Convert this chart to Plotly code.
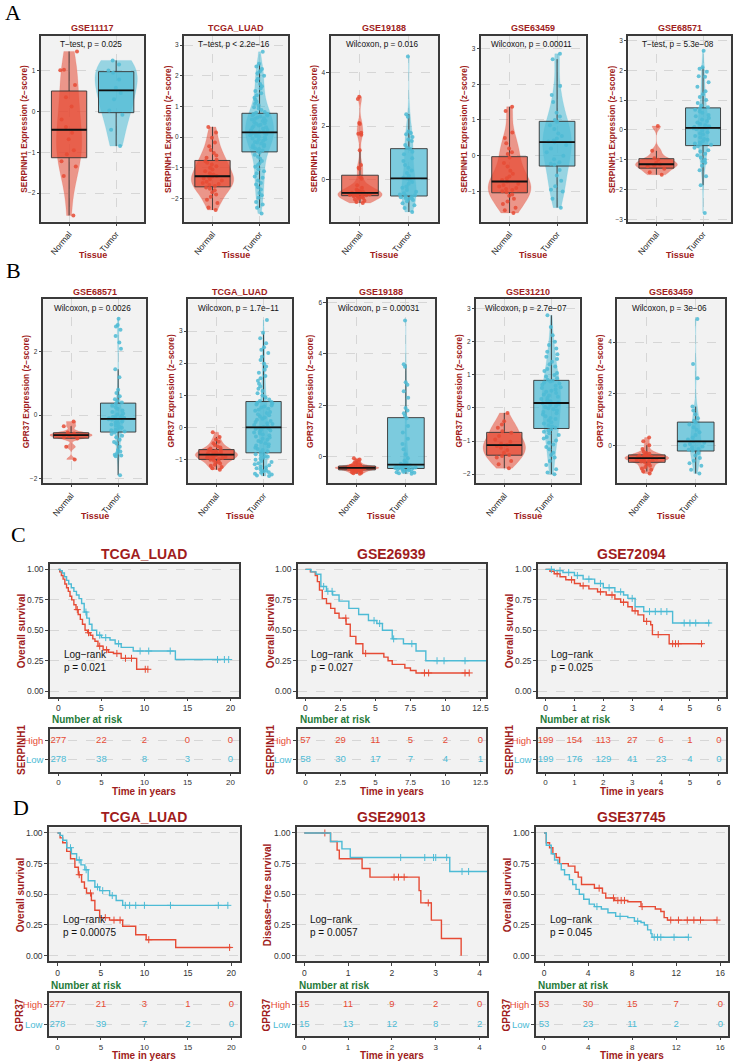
import numpy as np
import plotly.graph_objects as go

# ======================= DATA =======================
# ---- Panel A: SERPINH1 expression (z-score) ----
A_titles = ["GSE11117", "TCGA_LUAD", "GSE19188", "GSE63459", "GSE68571"]
A_tests = ["T\u2212test, p = 0.025", "T\u2212test, p < 2.2e\u221216", "Wilcoxon, p = 0.016",
           "Wilcoxon, p = 0.00011", "T\u2212test, p = 5.3e\u221208"]
A_gene = "SERPINH1"

A1_normal = [1.47, 1.02, 1.01, 0.65, 0.35, 0.12, -0.2, -0.38, -0.52, -0.68, -0.95, -1.05, -1.22, -1.35, -1.58, -2.55]
A1_tumor = [1.25, 1.15, 1.0, 0.95, 0.78, 0.58, 0.45, 0.3, 0.02, -0.08, -0.45, -0.85]

A2_normal = [0.33, 0.15, -0.02, -0.18, -0.3, -0.42, -0.52, -0.6, -0.68, -0.74,
             -0.79, -0.84, -0.9, -0.95, -1.0, -1.06, -1.12, -1.18, -1.22, -1.27,
             -1.29, -1.32, -1.35, -1.38, -1.42, -1.46, -1.5, -1.53, -1.57, -1.6,
             -1.65, -1.69, -1.74, -1.8, -1.88, -1.95, -2.05, -2.15, -2.3, -2.38]
A2_tumor = [-2.5, -2.31, -2.2, -2.12, -1.98, -1.9, -1.83, -1.71, -1.64, -1.55, -1.5, -1.42, -1.33,
            -1.29, -1.18, -1.12, -1.05, -0.97, -0.91, -0.86, -0.78, -0.71, -0.64, -0.58, -0.51,
            -0.46, -0.44, -0.39, -0.37, -0.33, -0.3, -0.27, -0.25, -0.21, -0.18, -0.16, -0.12,
            -0.09, -0.07, -0.05, -0.01, 0.02, 0.03, 0.06, 0.08, 0.1, 0.11, 0.12, 0.13, 0.14,
            0.16, 0.18, 0.22, 0.23, 0.27, 0.3, 0.32, 0.35, 0.38, 0.4, 0.43, 0.45, 0.48, 0.52,
            0.53, 0.57, 0.6, 0.61, 0.64, 0.67, 0.7, 0.71, 0.73, 0.75, 0.76,
            0.79, 0.82, 0.88, 0.93, 0.97, 1.04, 1.09, 1.15, 1.22, 1.28, 1.36, 1.43, 1.5,
            1.58, 1.66, 1.73, 1.84, 1.9, 2.0, 2.08, 2.15, 2.22, 2.3, 2.39, 2.78]

A3_normal = [3.1, 3.02, 2.12, 2.08, 1.76, 1.72, 1.68, 1.1, 0.55, 0.45, 0.41, 0.09, 0.04, -0.2, -0.3,
             -0.36, -0.4, -0.42, -0.44, -0.45, -0.46, -0.48, -0.49, -0.5, -0.51, -0.52, -0.52,
             -0.53, -0.54, -0.55, -0.56, -0.57, -0.58, -0.59, -0.6, -0.61, -0.62, -0.64, -0.66,
             -0.68, -0.71, -0.74, -0.78, -0.83, -0.87]
A3_tumor = [4.6, 2.45, 2.35, 1.8, 1.75, 1.7, 1.6, 1.5, 1.45, 1.3, 1.2, 1.15, 1.05, 0.95, 0.8, 0.7,
            0.55, 0.45, 0.35, 0.25, 0.15, 0.08, 0.05, 0.0, -0.08, -0.15, -0.25, -0.3, -0.38, -0.45,
            -0.5, -0.55, -0.58, -0.6, -0.62, -0.65, -0.68, -0.7, -0.72, -0.75, -0.8, -0.88, -0.95,
            -1.05, -1.2]

A4_normal = [1.37, 1.25, 0.65, 0.5, 0.35, 0.2, 0.1, 0.05, -0.05, -0.2, -0.3, -0.42, -0.5, -0.58,
             -0.63, -0.68, -0.72, -0.78, -0.82, -0.86, -0.9, -0.93, -0.96, -0.99, -1.02, -1.08,
             -1.12, -1.2, -1.28, -1.35, -1.45, -1.52, -1.6]
A4_tumor = [2.85, 2.7, 1.95, 1.7, 1.5, 1.2, 1.1, 1.0, 0.95, 0.85, 0.75, 0.62, 0.55, 0.48, 0.43,
            0.4, 0.38, 0.3, 0.2, 0.1, 0.0, -0.1, -0.18, -0.22, -0.25, -0.4, -0.55, -0.7, -0.85,
            -0.95, -1.0, -1.2, -1.45]

A5_normal = [0.13, -0.7, -0.95, -1.0, -1.1, -1.15, -1.18, -1.22, -1.3, -1.42, -1.5]
A5_tumor = [2.65, 2.1, 2.05, 1.95, 1.8, 1.78, 1.6, 1.45, 1.3, 1.2, 1.1, 1.0, 0.9, 0.82, 0.76,
            0.72, 0.68, 0.62, 0.58, 0.5, 0.46, 0.4, 0.35, 0.3, 0.25, 0.2, 0.16, 0.12, 0.1, 0.08,
            0.06, 0.02, -0.02, -0.08, -0.12, -0.15, -0.2, -0.25, -0.3, -0.33, -0.38, -0.42, -0.45,
            -0.48, -0.5, -0.55, -0.6, -0.68, -0.72, -0.8, -0.85, -0.92, -1.0, -1.05, -1.1, -1.2,
            -1.35, -1.55, -1.85, -2.78]

# ---- Panel B: GPR37 expression (z-score) ----
B_titles = ["GSE68571", "TCGA_LUAD", "GSE19188", "GSE31210", "GSE63459"]
B_tests = ["Wilcoxon, p = 0.0026", "Wilcoxon, p = 1.7e\u221211", "Wilcoxon, p = 0.00031",
           "Wilcoxon, p = 2.7e\u221207", "Wilcoxon, p = 3e\u221206"]
B_gene = "GPR37"

B1_normal = [-0.2, -0.35, -0.55, -0.58, -0.62, -0.63, -0.66, -0.7, -0.74, -1.0, -1.4]
B1_tumor = [3.05, 2.85, 2.8, 2.7, 2.5, 2.3, 2.1, 1.45, 1.2, 0.8, 0.7, 0.6, 0.5, 0.45, 0.4,
            0.36, 0.3, 0.25, 0.2, 0.15, 0.1, 0.05, 0.02, -0.02, -0.05, -0.07, -0.08, -0.09, -0.1,
            -0.11, -0.13, -0.15, -0.18, -0.2, -0.23, -0.26, -0.3, -0.33, -0.36, -0.4, -0.43,
            -0.46, -0.48, -0.5, -0.52, -0.55, -0.6, -0.65, -0.7, -0.78, -0.85, -0.9, -1.0, -1.1,
            -1.2, -1.3, -1.28, -1.25, -1.15, -1.9]

B2_normal = [-0.15, -0.3, -0.38, -0.45, -0.5, -0.55, -0.6, -0.63, -0.66, -0.69,
             -0.7, -0.72, -0.74, -0.76, -0.78, -0.79, -0.81, -0.82, -0.83, -0.84,
             -0.86, -0.87, -0.89, -0.9, -0.92, -0.93, -0.95, -0.96, -0.98, -0.99,
             -1.01, -1.04, -1.07, -1.1, -1.13, -1.17, -1.2, -1.24, -1.28, -1.32]
B2_tumor = [-1.52, -1.5, -1.47, -1.45, -1.42, -1.4, -1.37, -1.35, -1.31, -1.28, -1.25, -1.22,
            -1.18, -1.15, -1.12, -1.08, -1.05, -1.01, -0.98, -0.95, -0.92, -0.9, -0.87, -0.84,
            -0.81, -0.78, -0.75, -0.71, -0.68, -0.64, -0.6, -0.57, -0.53, -0.5, -0.46, -0.43,
            -0.39, -0.36, -0.32, -0.29, -0.25, -0.22, -0.19, -0.16, -0.13, -0.1, -0.08, -0.05,
            -0.03, -0.01, 0.01, 0.04, 0.07, 0.1, 0.13, 0.17, 0.2, 0.24, 0.27, 0.31, 0.34, 0.38,
            0.41, 0.45, 0.48, 0.52, 0.55, 0.58, 0.62, 0.65, 0.68, 0.71, 0.74, 0.77, 0.79,
            0.82, 0.87, 0.93, 0.99, 1.06, 1.13, 1.2, 1.28, 1.36, 1.45, 1.53, 1.6, 1.7, 1.8,
            1.9, 1.98, 2.1, 2.2, 2.32, 2.42, 2.5, 2.62, 2.78, 2.95, 3.35]

B3_normal = [-0.05, -0.1, -0.15, -0.2, -0.24, -0.27, -0.3, -0.32, -0.34, -0.35, -0.36, -0.37,
             -0.38, -0.39, -0.4, -0.4, -0.41, -0.41, -0.42, -0.42, -0.43, -0.43, -0.44, -0.45,
             -0.45, -0.46, -0.47, -0.48, -0.49, -0.5, -0.51, -0.52, -0.53, -0.55, -0.56, -0.58,
             -0.6, -0.62, -0.64, -0.66]
B3_tumor = [5.3, 3.6, 3.5, 2.9, 2.8, 2.55, 2.3, 1.9, 1.8, 1.7, 1.6, 1.5, 1.2, 0.95, 0.7, 0.5,
            0.3, 0.1, -0.05, -0.15, -0.22, -0.27, -0.3, -0.31, -0.33, -0.35, -0.37, -0.38, -0.4,
            -0.41, -0.42, -0.43, -0.44, -0.45, -0.46, -0.48, -0.5, -0.52, -0.54, -0.56, -0.58,
            -0.6, -0.62, -0.64, -0.66]

B4_normal = [-0.15, -0.4, -0.5, -0.6, -0.7, -0.75, -0.85, -0.95, -1.02, -1.08, -1.12, -1.15,
             -1.2, -1.27, -1.35, -1.42, -1.45, -1.5, -1.6, -1.7, -1.82]
B4_tumor = [-2.0, -1.95, -1.85, -1.72, -1.6, -1.5, -1.42, -1.35, -1.25, -1.18, -1.1, -1.05,
            -0.98, -0.92, -0.88, -0.82, -0.76, -0.72, -0.68, -0.64, -0.6, -0.56, -0.52, -0.47,
            -0.43, -0.38, -0.33, -0.3, -0.25, -0.2, -0.16, -0.12, -0.08, -0.04, -0.01, 0.03,
            0.06, 0.09, 0.12, 0.14, 0.16, 0.2, 0.23, 0.27, 0.3, 0.34, 0.38, 0.41, 0.45, 0.49,
            0.52, 0.56, 0.6, 0.63, 0.67, 0.7, 0.74, 0.77, 0.8, 0.82, 0.85, 0.9, 0.95, 1.0, 1.06,
            1.12, 1.18, 1.25, 1.32, 1.4, 1.48, 1.55, 1.62, 1.7, 1.8, 1.9, 2.0, 2.2, 2.45, 2.8]

B5_normal = [0.3, 0.15, 0.0, -0.15, -0.25, -0.3, -0.33, -0.36, -0.38, -0.4, -0.42, -0.44, -0.46,
             -0.47, -0.48, -0.49, -0.5, -0.52, -0.54, -0.55, -0.57, -0.59, -0.61, -0.63, -0.65,
             -0.7, -0.75, -0.8, -0.85, -0.9, -0.95, -1.02, -1.1]
B5_tumor = [4.9, 3.15, 2.6, 1.5, 1.35, 1.2, 1.05, 0.95, 0.88, 0.8, 0.7, 0.6, 0.5, 0.4, 0.3, 0.22,
            0.15, 0.1, 0.05, 0.0, -0.05, -0.1, -0.15, -0.18, -0.2, -0.3, -0.4, -0.5, -0.6, -0.7,
            -0.8, -0.95, -1.1]

# ---- Panels C/D: Kaplan-Meier curves (step breakpoints) ----
C_titles = ["TCGA_LUAD", "GSE26939", "GSE72094"]
C_pvals = ["0.021", "0.027", "0.025"]
C_ylabels = ["Overall survival", "Overall survival", "Overall survival"]
C_gene = "SERPINH1"

C1_high_t = [0, 0.15, 0.35, 0.55, 0.75, 0.95, 1.15, 1.35, 1.55, 1.8, 2.05, 2.3, 2.55, 2.8, 3.1, 3.4, 3.7, 4.0, 4.25, 4.6, 5.2, 5.8, 6.4, 7.3, 9.1]
C1_high_s = [1.0, 0.98, 0.95, 0.92, 0.88, 0.85, 0.82, 0.78, 0.75, 0.71, 0.67, 0.63, 0.59, 0.55, 0.5, 0.48, 0.46, 0.43, 0.41, 0.37, 0.34, 0.32, 0.31, 0.27, 0.18]
C1_high_end = 10.4
C1_high_cens = [2.2, 3.5, 4.8, 5.6, 6.8, 7.8, 8.5, 10.1, 10.4]
C1_low_t = [0, 0.2, 0.45, 0.7, 0.95, 1.2, 1.5, 1.8, 2.1, 2.4, 2.7, 3.0, 3.3, 3.6, 3.9, 4.45, 5.0, 6.0, 6.6, 7.3, 8.7, 13.6]
C1_low_s = [1.0, 0.99, 0.97, 0.94, 0.91, 0.88, 0.85, 0.82, 0.79, 0.76, 0.72, 0.65, 0.6, 0.55, 0.5, 0.46, 0.44, 0.42, 0.39, 0.36, 0.33, 0.26]
C1_low_end = 19.8
C1_low_cens = [3.2, 4.8, 5.5, 7.0, 9.5, 10.5, 13.0, 18.5, 19.3, 19.8]

C2_high_t = [0, 0.35, 0.7, 0.85, 1.0, 1.2, 1.5, 1.8, 2.1, 2.4, 2.9, 3.2, 3.6, 4.1, 5.6, 5.9, 6.2, 7.1, 7.5, 7.9]
C2_high_s = [1.0, 0.98, 0.95, 0.9, 0.83, 0.76, 0.72, 0.68, 0.64, 0.6, 0.55, 0.45, 0.39, 0.31, 0.28, 0.25, 0.22, 0.19, 0.17, 0.15]
C2_high_end = 11.7
C2_high_cens = [2.88, 4.3, 8.5, 8.8, 11.4, 11.7]
C2_low_t = [0, 0.4, 0.76, 1.1, 1.5, 1.94, 2.4, 3.1, 3.8, 4.5, 5.1, 5.5, 6.2, 7.0, 7.9, 8.6]
C2_low_s = [1.0, 0.98, 0.96, 0.86, 0.82, 0.79, 0.74, 0.68, 0.63, 0.58, 0.556, 0.5, 0.43, 0.39, 0.33, 0.25]
C2_low_end = 12.9
C2_low_cens = [1.3, 1.6, 1.9, 4.9, 5.3, 6.3, 7.6, 9.4, 9.9, 11.4]

C3_high_t = [0, 0.15, 0.3, 0.5, 0.7, 1.0, 1.2, 1.5, 1.8, 2.1, 2.4, 2.6, 2.85, 3.0, 3.2, 3.4, 3.64, 3.7, 4.28]
C3_high_s = [1.0, 0.985, 0.965, 0.94, 0.915, 0.884, 0.865, 0.84, 0.816, 0.79, 0.757, 0.73, 0.694, 0.66, 0.627, 0.573, 0.546, 0.465, 0.39]
C3_high_end = 5.45
C3_high_cens = [0.4, 0.9, 1.3, 1.9, 2.3, 2.7, 3.1, 3.5, 3.9, 4.4, 4.5, 4.6, 5.4]
C3_low_t = [0, 0.3, 0.6, 1.0, 1.3, 1.7, 2.0, 2.4, 2.7, 2.85, 3.1, 3.4, 4.4]
C3_low_s = [1.0, 0.99, 0.975, 0.95, 0.92, 0.884, 0.85, 0.816, 0.79, 0.762, 0.694, 0.654, 0.56]
C3_low_end = 5.7
C3_low_cens = [0.2, 0.5, 0.8, 1.1, 1.5, 1.9, 2.2, 2.6, 3.0, 3.6, 3.8, 4.0, 4.2, 4.8, 5.0, 5.2, 5.65]

D_titles = ["TCGA_LUAD", "GSE29013", "GSE37745"]
D_pvals = ["0.00075", "0.0057", "0.045"]
D_ylabels = ["Overall survival", "Disease\u2212free survival", "Overall survival"]
D_gene = "GPR37"

D1_high_t = [0, 0.3, 0.6, 1.06, 1.5, 2.0, 2.4, 2.77, 3.1, 3.34, 3.9, 4.3, 4.85, 5.99, 7.5, 9.0, 10.2, 13.6]
D1_high_s = [1.0, 0.96, 0.92, 0.85, 0.79, 0.72, 0.66, 0.6, 0.55, 0.51, 0.45, 0.37, 0.31, 0.29, 0.24, 0.17, 0.13, 0.067]
D1_high_end = 20.0
D1_high_cens = [2.5, 3.8, 5.5, 6.5, 7.2, 10.5, 19.8]
D1_low_t = [0, 0.3, 0.6, 1.06, 1.6, 2.2, 2.7, 3.15, 3.53, 4.3, 4.85, 6.0, 6.75, 7.5]
D1_low_s = [1.0, 0.98, 0.94, 0.88, 0.83, 0.78, 0.74, 0.70, 0.61, 0.56, 0.53, 0.49, 0.45, 0.41]
D1_low_end = 19.6
D1_low_cens = [1.5, 2.5, 3.3, 4.6, 5.2, 6.3, 7.8, 8.3, 9.0, 10.0, 13.0, 18.5, 19.6]

D2_high_t = [0, 0.6, 0.75, 0.8, 1.32, 1.5, 2.62, 2.66, 2.9, 3.13, 3.58]
D2_high_s = [1.0, 0.93, 0.86, 0.79, 0.71, 0.64, 0.53, 0.43, 0.29, 0.14, 0.0]
D2_high_end = 3.58
D2_high_cens = [0.47, 2.05, 2.15, 2.28, 2.83]
D2_low_t = [0, 0.6, 0.86, 1.05, 3.32]
D2_low_s = [1.0, 0.93, 0.87, 0.8, 0.686]
D2_low_end = 4.17
D2_low_cens = [2.2, 2.75, 2.95, 3.0, 3.25, 3.6, 3.75]

D3_high_t = [0, 0.2, 0.5, 0.8, 1.1, 1.41, 2.2, 2.8, 3.1, 3.4, 4.57, 5.3, 5.6, 6.4, 7.6, 8.8, 10.1, 10.6, 10.9, 11.2]
D3_high_s = [1.0, 0.92, 0.88, 0.83, 0.8, 0.75, 0.73, 0.68, 0.64, 0.58, 0.55, 0.51, 0.47, 0.45, 0.44, 0.40, 0.38, 0.36, 0.31, 0.29]
D3_high_end = 15.7
D3_high_cens = [5.0, 6.3, 6.7, 7.0, 7.3, 8.9, 11.5, 12.2, 13.0, 13.6, 14.2, 15.7]
D3_low_t = [0, 0.2, 0.65, 0.95, 1.26, 1.56, 1.86, 2.3, 2.6, 2.9, 3.2, 3.6, 4.1, 4.57, 5.2, 5.8, 6.5, 7.6, 8.2, 8.8, 9.1, 9.4, 9.7, 9.8]
D3_low_s = [1.0, 0.9, 0.83, 0.78, 0.75, 0.70, 0.66, 0.62, 0.58, 0.54, 0.5, 0.46, 0.42, 0.40, 0.38, 0.35, 0.32, 0.31, 0.28, 0.27, 0.25, 0.21, 0.18, 0.15]
D3_low_end = 13.1
D3_low_cens = [4.8, 6.9, 8.5, 10.0, 10.3, 10.6, 11.8, 13.1]

# Number at risk tables
C_risk_times = [[0, 5, 10, 15, 20], [0, 2.5, 5, 7.5, 10, 12.5], [0, 1, 2, 3, 4, 5, 6]]
C_risk_high = [[277, 22, 2, 0, 0], [57, 29, 11, 5, 2, 0], [199, 154, 113, 27, 6, 1, 0]]
C_risk_low = [[278, 38, 8, 3, 0], [58, 30, 17, 7, 4, 1], [199, 176, 129, 41, 23, 4, 0]]
D_risk_times = [[0, 5, 10, 15, 20], [0, 1, 2, 3, 4], [0, 4, 8, 12, 16]]
D_risk_high = [[277, 21, 3, 1, 0], [15, 11, 9, 2, 0], [53, 30, 15, 7, 0]]
D_risk_low = [[278, 39, 7, 2, 0], [15, 13, 12, 8, 2], [53, 23, 11, 2, 0]]

# ======================= STYLE / LAYOUT =======================
W, H = 736, 1062
RED, BLUE = "#E64B35", "#4DBBD5"
RED_A = "rgba(230,75,53,{a})"
BLUE_A = "rgba(77,187,213,{a})"
DARKRED = "#A01C20"
GREEN = "#1F7A3A"
FONT = "Liberation Sans, Arial, sans-serif"
BORDER = "#3A3A3A"
GRID = "#D6D6D6"

fig = go.Figure()
layout = {}
annotations = []
axis_counter = [0]


def new_axes(xpx, ypx):
    axis_counter[0] += 1
    n = axis_counter[0]
    xs = "" if n == 1 else str(n)
    xd = [xpx[0] / W, xpx[1] / W]
    yd = [1 - ypx[1] / H, 1 - ypx[0] / H]
    return n, xs, xd, yd


def ann(xp, yp, text, size, color="#111", xanchor="center", yanchor="middle", angle=0, family=FONT):
    annotations.append(dict(xref="paper", yref="paper", x=xp / W, y=1 - yp / H, text=text,
                            showarrow=False, xanchor=xanchor, yanchor=yanchor, textangle=angle,
                            font=dict(size=size, color=color, family=family)))


def nrd0(v):
    v = np.asarray(v, float)
    sd = np.std(v, ddof=1)
    iqr = np.subtract(*np.percentile(v, [75, 25]))
    lo = min(sd, iqr / 1.34) if iqr > 0 else sd
    return 0.9 * lo * len(v) ** -0.2


def kde_peak(v, bw):
    v = np.asarray(v, float)
    g = np.linspace(v.min(), v.max(), 400)
    d = np.exp(-0.5 * ((g[:, None] - v[None, :]) / bw) ** 2).sum(1) / (len(v) * bw * np.sqrt(2 * np.pi))
    return d.max()


def box_panel(xpx, ypx, yrange, dtick, title, test, gene, normal, tumor, title_y, tissue_y):
    n, s, xd, yd = new_axes(xpx, ypx)
    xa, ya = "x" + s, "y" + s
    groups = [(0, normal, RED, RED_A), (1, tumor, BLUE, BLUE_A)]
    # ggplot "area" scaling: width proportional to the peak density
    bws = [nrd0(g[1]) for g in groups]
    peaks = [kde_peak(g[1], b) for g, b in zip(groups, bws)]
    for (pos, vals, col, cola), bw, pk in zip(groups, bws, peaks):
        fig.add_trace(go.Violin(x0=pos, y=vals, width=0.9 * pk / max(peaks),
                                scalegroup="g%d_%d" % (n, pos), scalemode="width",
                                spanmode="hard", bandwidth=bw, points=False,
                                fillcolor=cola.format(a=0.55), line=dict(color=cola.format(a=0.3), width=0.5),
                                hoverinfo="skip", showlegend=False, xaxis=xa, yaxis=ya))
    for pos, vals, col, cola in groups:
        fig.add_trace(go.Box(x0=pos, y=vals, width=0.75, fillcolor=cola.format(a=0.72),
                             line=dict(color="#333333", width=0.9), whiskerwidth=0,
                             boxpoints="all", jitter=0.6, pointpos=0,
                             marker=dict(color=col, size=4, opacity=0.85),
                             hoverinfo="skip", showlegend=False, xaxis=xa, yaxis=ya))
    for pos, vals, col, cola in groups:
        med = float(np.median(vals))
        fig.add_trace(go.Scatter(x=[pos - 0.375, pos + 0.375], y=[med, med], mode="lines",
                                 line=dict(color="#111", width=1.8), hoverinfo="skip",
                                 showlegend=False, xaxis=xa, yaxis=ya))
    common = dict(showline=True, mirror=True, linecolor=BORDER, linewidth=1.5, zeroline=False,
                  showgrid=True, gridcolor=GRID, griddash="dash", gridwidth=0.7,
                  ticks="outside", ticklen=2.5, tickwidth=0.8, tickcolor="#444")
    layout["xaxis" + s] = dict(domain=xd, anchor=ya, type="linear", range=[-0.6, 1.6],
                               tickvals=[0, 1], ticktext=["Normal", "Tumor"], tickangle=-50,
                               tickfont=dict(size=8.5, color="#222", family=FONT), **common)
    layout["yaxis" + s] = dict(domain=yd, anchor=xa, range=yrange, dtick=dtick,
                               tickfont=dict(size=6.5, color="#333", family=FONT), **common)
    cx = (xpx[0] + xpx[1]) / 2
    ann(cx, title_y, "<b>%s</b>" % title, 9, DARKRED)
    ann(cx - 2, ypx[0] + 9, test, 8.2, "#111")
    ann(xpx[0] - 17, (ypx[0] + ypx[1]) / 2, "<b>%s Expression (z\u2212score)</b>" % gene, 8.3, DARKRED, angle=-90)
    ann(cx, tissue_y, "<b>Tissue</b>", 9, DARKRED)


def km_panel(xpx, ypx, rpx, xrange, xticks, title, pval, ylabel, gene, curves, risk_t, risk_h, risk_l,
             title_y, nar_y, time_y, ylab_x):
    # survival plot
    n, s, xd, yd = new_axes(xpx, ypx)
    xa, ya = "x" + s, "y" + s
    for t, sv, end, cens, col in curves:
        fig.add_trace(go.Scatter(x=list(t) + [end], y=list(sv) + [sv[-1]], mode="lines",
                                 line=dict(color=col, width=1.4, shape="hv"), hoverinfo="skip",
                                 showlegend=False, xaxis=xa, yaxis=ya))
        ta, sa = np.asarray(t), np.asarray(sv)
        idx = np.searchsorted(ta, np.asarray(cens), side="right") - 1
        fig.add_trace(go.Scatter(x=cens, y=sa[idx], mode="markers",
                                 marker=dict(symbol="cross-thin", size=5, line=dict(color=col, width=1)),
                                 hoverinfo="skip", showlegend=False, xaxis=xa, yaxis=ya))
    common = dict(showline=True, mirror=True, linecolor=BORDER, linewidth=2, zeroline=False,
                  ticks="outside", ticklen=2.5, tickwidth=0.8, tickcolor="#444",
                  tickfont=dict(size=8.5, color="#333", family=FONT))
    layout["xaxis" + s] = dict(domain=xd, anchor=ya, range=xrange, tickvals=xticks,
                               showgrid=False, **common)
    layout["yaxis" + s] = dict(domain=yd, anchor=xa, range=[-0.045, 1.045],
                               tickvals=[0, 0.25, 0.5, 0.75, 1.0],
                               ticktext=["0.00", "0.25", "0.50", "0.75", "1.00"],
                               showgrid=True, gridcolor=GRID, griddash="dash", gridwidth=0.8, **common)
    annotations.append(dict(xref=xa, yref=ya, x=max(xticks) / 50.0, y=0.245, xanchor="left",
                            yanchor="middle", align="left", showarrow=False,
                            text="Log\u2212rank<br>p = %s" % pval,
                            font=dict(size=10, color="#111", family=FONT)))
    cx = (xpx[0] + xpx[1]) / 2
    ann(cx, title_y, "<b>%s</b>" % title, 14, DARKRED)
    ann(ylab_x, (ypx[0] + ypx[1]) / 2, "<b>%s</b>" % ylabel, 10, DARKRED, angle=-90)
    ann(xpx[0], nar_y, "<b>Number at risk</b>", 10, GREEN, xanchor="left")

    # risk table
    n2, s2, xd2, yd2 = new_axes(xpx, rpx)
    xa2, ya2 = "x" + s2, "y" + s2
    fig.add_trace(go.Scatter(x=risk_t, y=[2] * len(risk_t), mode="text",
                             text=[str(v) for v in risk_h], textfont=dict(color=RED, size=9.5, family=FONT),
                             hoverinfo="skip", showlegend=False, xaxis=xa2, yaxis=ya2))
    fig.add_trace(go.Scatter(x=risk_t, y=[1] * len(risk_t), mode="text",
                             text=[str(v) for v in risk_l], textfont=dict(color=BLUE, size=9.5, family=FONT),
                             hoverinfo="skip", showlegend=False, xaxis=xa2, yaxis=ya2))
    rx = dict(common)
    rx["ticklen"] = 2
    rx["tickfont"] = dict(size=8, color="#333", family=FONT)
    layout["xaxis" + s2] = dict(domain=xd2, anchor=ya2, range=xrange, tickvals=xticks,
                                showgrid=False, **rx)
    rc = dict(common)
    rc["tickfont"] = dict(size=9.5, family=FONT)
    layout["yaxis" + s2] = dict(domain=yd2, anchor=xa2, range=[0.4, 2.6], tickvals=[2, 1],
                                ticktext=['<span style="color:%s">High</span>' % RED,
                                          '<span style="color:%s">Low</span>' % BLUE],
                                showgrid=True, gridcolor=GRID, griddash="dash", gridwidth=0.8, **rc)
    ann(ylab_x, (rpx[0] + rpx[1]) / 2, "<b>%s</b>" % gene, 10, DARKRED, angle=-90)
    ann(cx, time_y, "<b>Time in years</b>", 10, DARKRED)


# ---- rows A and B ----
A_x = [(41, 145), (185, 289), (332, 440), (483, 588), (631, 734)]
A_yranges = [[-2.7, 1.85], [-2.76, 3.3], [-1.56, 5.37], [-1.84, 3.35], [-3.07, 3.15]]
A_dticks = [1, 1, 2, 1, 1]
A_normals = [A1_normal, A2_normal, A3_normal, A4_normal, A5_normal]
A_tumors = [A1_tumor, A2_tumor, A3_tumor, A4_tumor, A5_tumor]
for i in range(5):
    box_panel(A_x[i], (35, 221), A_yranges[i], A_dticks[i], A_titles[i], A_tests[i], A_gene,
              A_normals[i], A_tumors[i], 27, 254)

B_x = [(43, 147), (189, 293), (329, 437), (478, 582), (620, 728)]
B_yranges = [[-2.15, 3.66], [-1.74, 3.99], [-1.02, 6.12], [-2.27, 3.28], [-1.47, 5.66]]
B_dticks = [2, 1, 2, 1, 2]
B_normals = [B1_normal, B2_normal, B3_normal, B4_normal, B5_normal]
B_tumors = [B1_tumor, B2_tumor, B3_tumor, B4_tumor, B5_tumor]
for i in range(5):
    box_panel(B_x[i], (299, 483), B_yranges[i], B_dticks[i], B_titles[i], B_tests[i], B_gene,
              B_normals[i], B_tumors[i], 292, 516)

# ---- rows C and D ----
C_curves = [
    [(C1_high_t, C1_high_s, C1_high_end, C1_high_cens, RED), (C1_low_t, C1_low_s, C1_low_end, C1_low_cens, BLUE)],
    [(C2_high_t, C2_high_s, C2_high_end, C2_high_cens, RED), (C2_low_t, C2_low_s, C2_low_end, C2_low_cens, BLUE)],
    [(C3_high_t, C3_high_s, C3_high_end, C3_high_cens, RED), (C3_low_t, C3_low_s, C3_low_end, C3_low_cens, BLUE)],
]
D_curves = [
    [(D1_high_t, D1_high_s, D1_high_end, D1_high_cens, RED), (D1_low_t, D1_low_s, D1_low_end, D1_low_cens, BLUE)],
    [(D2_high_t, D2_high_s, D2_high_end, D2_high_cens, RED), (D2_low_t, D2_low_s, D2_low_end, D2_low_cens, BLUE)],
    [(D3_high_t, D3_high_s, D3_high_end, D3_high_cens, RED), (D3_low_t, D3_low_s, D3_low_end, D3_low_cens, BLUE)],
]
C_x = [(50, 240), (299, 488), (540, 729)]
C_xr = [[-1, 21], [-0.55, 12.9], [-0.27, 6.25]]
C_ylab_x = [21, 271, 511]
for i in range(3):
    km_panel(C_x[i], (564, 697), (729, 772), C_xr[i], C_risk_times[i], C_titles[i], C_pvals[i],
             C_ylabels[i], C_gene, C_curves[i], C_risk_times[i], C_risk_high[i], C_risk_low[i],
             554, 720, 792, C_ylab_x[i])

D_x = [(49, 241), (298, 489), (538, 731)]
D_xr = [[-1, 21], [-0.17, 4.17], [-0.75, 16.7]]
D_ylab_x = [20, 268, 509]
for i in range(3):
    km_panel(D_x[i], (828, 962), (994, 1037), D_xr[i], D_risk_times[i], D_titles[i], D_pvals[i],
             D_ylabels[i], D_gene, D_curves[i], D_risk_times[i], D_risk_high[i], D_risk_low[i],
             818, 986, 1056, D_ylab_x[i])

# ---- panel letters ----
SERIF = "Liberation Serif, Times New Roman, serif"
ann(3, 12, "A", 22, "#000", xanchor="left", family=SERIF)
ann(4, 270, "B", 22, "#000", xanchor="left", family=SERIF)
ann(9, 535, "C", 22, "#000", xanchor="left", family=SERIF)
ann(11, 808, "D", 22, "#000", xanchor="left", family=SERIF)

fig.update_layout(width=W, height=H, margin=dict(l=0, r=0, t=0, b=0), autosize=False,
                  paper_bgcolor="white", plot_bgcolor="#F2F2F2", showlegend=False,
                  font=dict(family=FONT), annotations=annotations, **layout)
fig.write_html("out.html", config={"displayModeBar": False})
